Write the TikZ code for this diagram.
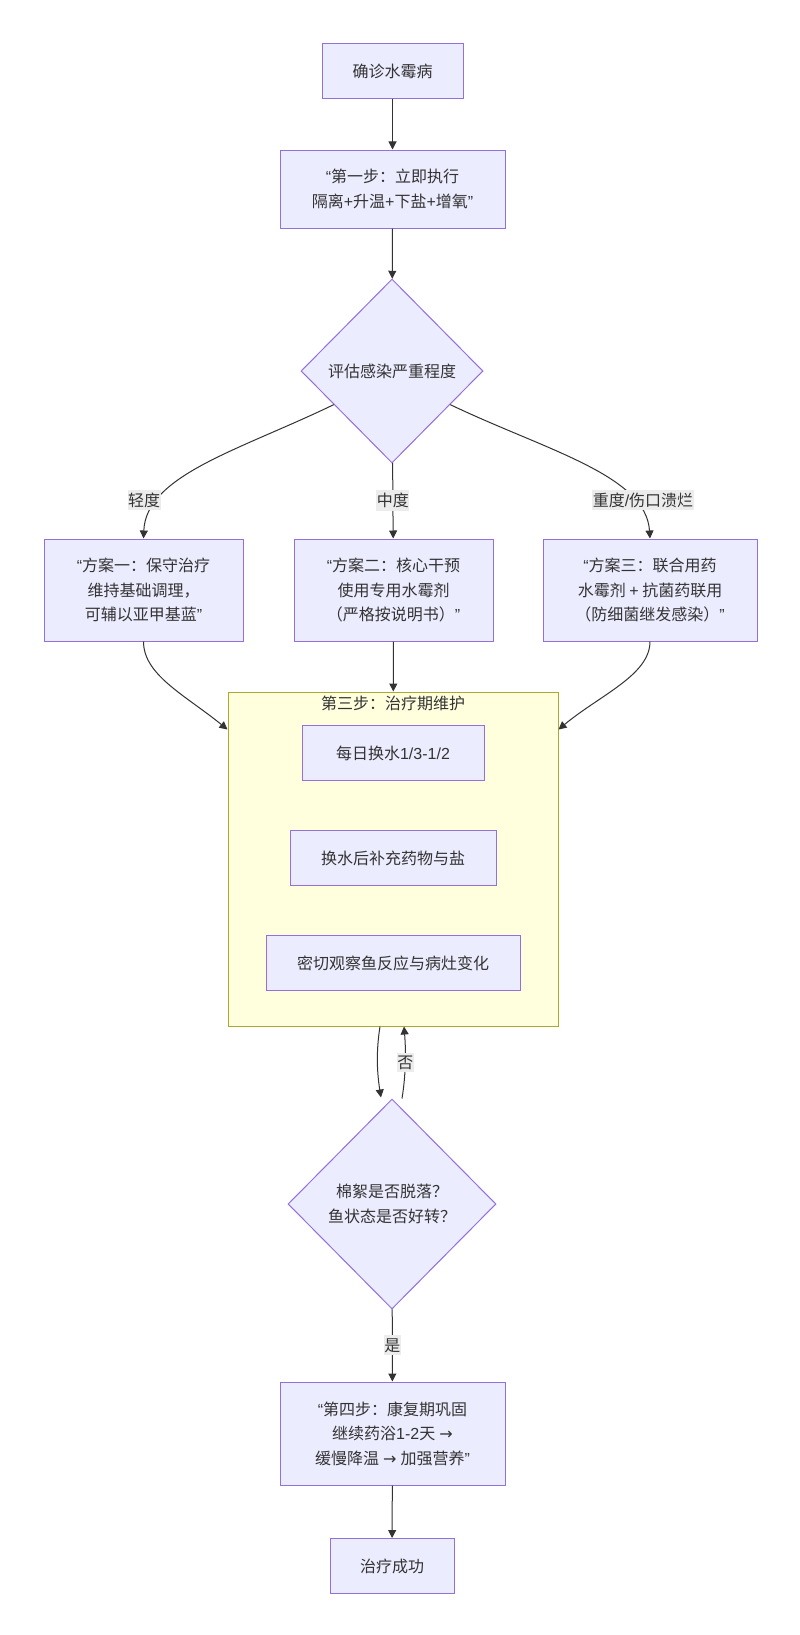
\documentclass[tikz,border=0pt]{standalone}
\usepackage{fontspec}
\setmainfont{Noto Sans CJK SC}
\newfontfamily\latinfont{Liberation Sans}
\newfontfamily\symfont{DejaVu Sans}
\usepackage{tikz}
\usetikzlibrary{shapes.geometric,arrows.meta}
\definecolor{boxfill}{HTML}{ECECFF}
\definecolor{boxline}{HTML}{9370DB}
\definecolor{edgeline}{HTML}{333333}
\definecolor{clusterfill}{HTML}{FFFFDE}
\definecolor{clusterline}{HTML}{AAAA33}
\definecolor{lblfill}{HTML}{ECECEC}
\newcommand{\oq}{{\latinfont “}}
\newcommand{\cq}{{\latinfont ”}}
\newcommand{\lat}[1]{{\latinfont #1}}
\newcommand{\toarrow}{\hspace{4pt}{\symfont →}\hspace{4pt}}

\begin{document}
\begin{tikzpicture}[x=1pt, y=-1pt,
        font=\fontsize{16pt}{24.5pt}\selectfont, text=edgeline,
        box/.style={rectangle, draw=boxline, fill=boxfill, line width=1pt, align=center, inner sep=0pt},
        decision/.style={diamond, draw=boxline, fill=boxfill, line width=1pt, align=center, inner sep=0pt},
        flow/.style={draw=edgeline, line width=1pt, -{Triangle[length=8pt, width=8pt]}},
        lbl/.style={fill=lblfill, inner xsep=0.5pt, inner ysep=3pt}]
        \useasboundingbox (0,0) rectangle (800,1635);
        \fill[white] (0,0) rectangle (800,1635);
        \node[box, minimum width=141pt, minimum height=55pt] (diag) at (392.5,71.5) {确诊水霉病};
        \node[box, minimum width=225pt, minimum height=78pt] (step1) at (392.5,189) {\oq 第一步：立即执行\\隔离\lat{+}升温\lat{+}下盐\lat{+}增氧\cq};
        \node[decision, minimum width=182pt, minimum height=184pt] (assess) at (392,371) {评估感染严重程度};
        \node[box, minimum width=199pt, minimum height=102pt] (plan1) at (143.5,590) {\oq 方案一：保守治疗\\维持基础调理，\\可辅以亚甲基蓝\cq};
        \node[box, minimum width=199pt, minimum height=102pt] (plan2) at (393.5,590) {\oq 方案二：核心干预\\使用专用水霉剂\\（严格按说明书）\cq};
        \node[box, minimum width=214pt, minimum height=102pt] (plan3) at (650,590) {\oq 方案三：联合用药\\水霉剂 \lat{+} 抗菌药联用\\（防细菌继发感染）\cq};
        \node[rectangle, draw=clusterline, fill=clusterfill, line width=1pt, minimum width=330pt, minimum height=334pt] (care) at (393,859) {};
        \node (caretitle) at (393,703) {第三步：治疗期维护};
        \node[box, minimum width=182pt, minimum height=55pt] (water) at (393,753) {每日换水\lat{1/3-1/2}};
        \node[box, minimum width=206pt, minimum height=55pt] (refill) at (393,858) {换水后补充药物与盐};
        \node[box, minimum width=254pt, minimum height=55pt] (watch) at (393,963) {密切观察鱼反应与病灶变化};
        \node[decision, minimum width=208pt, minimum height=210pt] (check) at (392,1204) {棉絮是否脱落？\\鱼状态是否好转？};
        \node[box, minimum width=225pt, minimum height=103pt] (step4) at (392.5,1433.5) {\oq 第四步：康复期巩固\\继续药浴\lat{1-2}天\toarrow\hspace{-4pt}\\缓慢降温\toarrow 加强营养\cq};
        \node[box, minimum width=124pt, minimum height=55pt] (done) at (392,1566) {治疗成功};
        \draw[flow] (diag) -- (step1);
        \draw[flow] (step1) -- (assess);
        \draw[flow] (assess.210) .. controls (240,450) and (146,475) .. (plan1.north);
        \node[lbl] (mild) at (144,500) {轻度};
        \draw[flow] (assess) -- node[lbl] (moderate) {中度} (plan2);
        \draw[flow] (assess.330) .. controls (545,450) and (646,475) .. (plan3.north);
        \node[lbl] (severe) at (643,500) {重度\lat{/}伤口溃烂};
        \draw[flow] (plan1.south) .. controls (143.5,675) and (185,695) .. ([yshift=-38pt]care.north west);
        \draw[flow] (plan2) -- (care);
        \draw[flow] (plan3.south) .. controls (650,675) and (600,695) .. ([yshift=-38pt]care.north east);
        \draw[flow] ([xshift=-13pt]care.south) .. controls +(-4,25) and +(-4,-25) .. ([xshift=-11pt,yshift=1pt]check.north);
        \draw[flow] ([xshift=10pt]check.north) .. controls +(4,-25) and +(2,25) .. node[lbl] (retry) {否} ([xshift=11pt]care.south);
        \draw[flow] (check) -- node[lbl] (yes) {是} (step4);
        \draw[flow] (step4) -- (done);
    \end{tikzpicture}
\end{document}
